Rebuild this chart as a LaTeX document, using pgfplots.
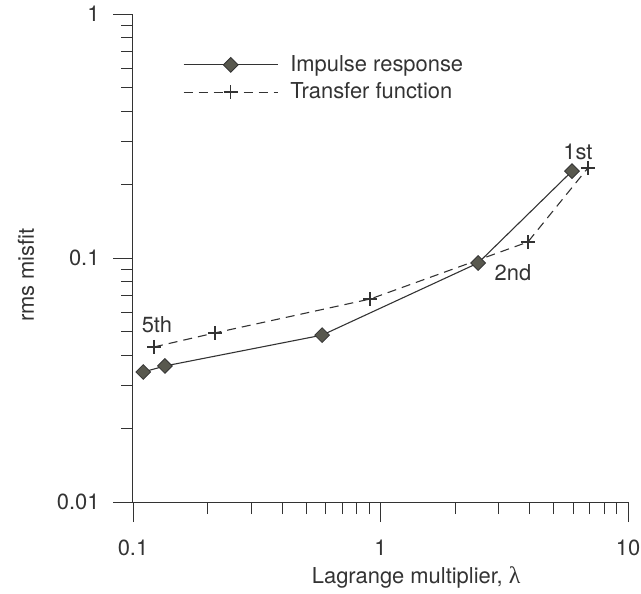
\documentclass[border=0pt]{standalone}
\usepackage{fontspec}
\setmainfont{TeX Gyre Heros}
\newfontfamily\greekfont{Liberation Serif}
\usepackage{pgfplots}
\pgfplotsset{compat=1.18}
\definecolor{ink}{HTML}{333333}
\definecolor{markfill}{HTML}{58584E}

\begin{document}
\fontsize{22}{26}\selectfont
\begin{tikzpicture}
\begin{axis}[
    scale only axis,
    width=495bp, height=488bp,
    xmode=log, ymode=log,
    xmin=0.1, xmax=10, ymin=0.01, ymax=1,
    axis lines=left,
    axis line style={-, line width=1pt, ink},
    tick style={line width=0.9pt, ink},
    tick align=outside,
    major tick length=20bp,
    minor tick length=12bp,
    log ticks with fixed point,
    /pgf/number format/assume math mode=true,
    xtick={0.1,1,10}, ytick={0.01,0.1,1},
    ticklabel style={font=\fontsize{22}{26}\selectfont, text=ink},
    xticklabel style={yshift=-10bp},
    yticklabel style={xshift=-6bp},
    every axis x label/.style={at={(rel axis cs:0.572,0)}, yshift=-75bp, anchor=center},
    every axis y label/.style={at={(rel axis cs:0,0.465)}, xshift=-107bp, rotate=90, anchor=center},
    xlabel={Lagrange multiplier, {\greekfont\fontsize{24}{26}\selectfont λ}},
    ylabel={rms misfit},
    label style={text=ink},
    clip=false,
    legend style={draw=none, fill=none, at={(rel axis cs:0.101,0.92)}, anchor=north west,
        inner sep=0pt, row sep=4bp, font=\fontsize{22}{26}\selectfont, text=ink,
        nodes={inner xsep=12bp}},
    legend cell align=left,
    legend image code/.code={
        \draw[#1, mark repeat=2, mark phase=2] plot coordinates {(0bp,0bp) (47bp,0bp) (94bp,0bp)};
    },
]
\addplot[ink, line width=1.1pt, mark=square*, mark size=5.2bp,
    mark options={rotate=45, solid, fill=markfill, draw=ink, line width=0.8pt}]
    coordinates {(0.110,0.0341) (0.1346,0.0361) (0.581,0.0483) (2.48,0.0954) (5.94,0.227)};
\addlegendentry{Impulse response}
\addplot[ink, line width=1.1pt, dash pattern=on 9bp off 6bp, mark=+, mark size=7bp,
    mark options={solid, line width=1.5pt}]
    coordinates {(0.1216,0.0432) (0.214,0.0493) (0.908,0.0679) (3.94,0.1163) (6.89,0.234)};
\addlegendentry{Transfer function}
\node[text=ink] at (axis cs:6.28,0.272) {1st};
\node[text=ink] at (axis cs:3.43,0.0868) {2nd};
\node[text=ink] at (axis cs:0.125,0.0531) {5th};
\coordinate (ll) at (rel axis cs:0,0);
\coordinate (ur) at (rel axis cs:1,1);
\end{axis}
% page frame matching the reference margins
\pgfresetboundingbox
\path ([shift={(-133bp,-92bp)}]ll) rectangle ([shift={(13bp,14bp)}]ur);
\end{tikzpicture}
\end{document}
